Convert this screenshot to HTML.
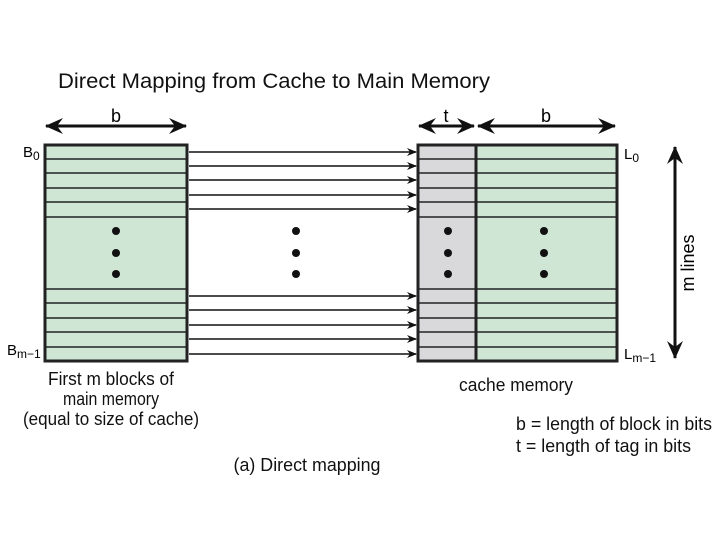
<!DOCTYPE html>
<html><head><style>body{margin:0;background:#fff}svg{display:block}</style></head><body>
<svg width="720" height="540" viewBox="0 0 720 540" xmlns="http://www.w3.org/2000/svg" font-family="Liberation Sans, sans-serif">
<defs>
<marker id="ah" markerWidth="10" markerHeight="8" refX="9" refY="4" orient="auto" markerUnits="userSpaceOnUse"><path d="M0,0 L10,4 L0,8 L3,4Z" fill="#111"/></marker>
<marker id="big" markerWidth="18" markerHeight="16" refX="17" refY="8" orient="auto-start-reverse" markerUnits="userSpaceOnUse"><path d="M0,0 L18,8 L0,16 L6,8Z" fill="#111"/></marker>
</defs>
<text x="58" y="88" font-size="21" textLength="432" lengthAdjust="spacingAndGlyphs" fill="#111">Direct Mapping from Cache to Main Memory</text>
<line x1="46" y1="126" x2="186" y2="126" stroke="#111" stroke-width="3" marker-start="url(#big)" marker-end="url(#big)"/>
<text x="116" y="122" font-size="18" text-anchor="middle">b</text>
<line x1="419" y1="126" x2="474" y2="126" stroke="#111" stroke-width="3" marker-start="url(#big)" marker-end="url(#big)"/>
<text x="446" y="122" font-size="18" text-anchor="middle">t</text>
<line x1="478" y1="126" x2="615" y2="126" stroke="#111" stroke-width="3" marker-start="url(#big)" marker-end="url(#big)"/>
<text x="546" y="122" font-size="18" text-anchor="middle">b</text>
<rect x="45" y="145" width="142" height="216" fill="#cfe6d4" stroke="#222" stroke-width="3"/>
<g stroke="#222" stroke-width="1.5">
<line x1="45" y1="159" x2="187" y2="159"/><line x1="45" y1="173" x2="187" y2="173"/><line x1="45" y1="188" x2="187" y2="188"/><line x1="45" y1="202" x2="187" y2="202"/><line x1="45" y1="217" x2="187" y2="217"/>
<line x1="45" y1="289" x2="187" y2="289"/><line x1="45" y1="303" x2="187" y2="303"/><line x1="45" y1="318" x2="187" y2="318"/><line x1="45" y1="332" x2="187" y2="332"/><line x1="45" y1="347" x2="187" y2="347"/>
</g>
<rect x="418" y="145" width="58" height="216" fill="#d9d9dc"/>
<rect x="476" y="145" width="141" height="216" fill="#cfe6d4"/>
<g stroke="#222" stroke-width="1.5">
<line x1="418" y1="159" x2="617" y2="159"/><line x1="418" y1="173" x2="617" y2="173"/><line x1="418" y1="188" x2="617" y2="188"/><line x1="418" y1="202" x2="617" y2="202"/><line x1="418" y1="217" x2="617" y2="217"/>
<line x1="418" y1="289" x2="617" y2="289"/><line x1="418" y1="303" x2="617" y2="303"/><line x1="418" y1="318" x2="617" y2="318"/><line x1="418" y1="332" x2="617" y2="332"/><line x1="418" y1="347" x2="617" y2="347"/>
</g>
<rect x="418" y="145" width="199" height="216" fill="none" stroke="#222" stroke-width="3"/>
<line x1="476" y1="145" x2="476" y2="361" stroke="#222" stroke-width="3"/>
<g stroke="#111" stroke-width="1.5" marker-end="url(#ah)">
<line x1="189" y1="152" x2="416" y2="152"/><line x1="189" y1="166" x2="416" y2="166"/><line x1="189" y1="180" x2="416" y2="180"/><line x1="189" y1="195" x2="416" y2="195"/><line x1="189" y1="209" x2="416" y2="209"/>
<line x1="189" y1="296" x2="416" y2="296"/><line x1="189" y1="310" x2="416" y2="310"/><line x1="189" y1="325" x2="416" y2="325"/><line x1="189" y1="339" x2="416" y2="339"/><line x1="189" y1="354" x2="416" y2="354"/>
</g>
<g fill="#111">
<circle cx="116" cy="231" r="4"/><circle cx="116" cy="253" r="4"/><circle cx="116" cy="274" r="4"/>
<circle cx="296" cy="231" r="4"/><circle cx="296" cy="253" r="4"/><circle cx="296" cy="274" r="4"/>
<circle cx="448" cy="231" r="4"/><circle cx="448" cy="253" r="4"/><circle cx="448" cy="274" r="4"/>
<circle cx="544" cy="231" r="4"/><circle cx="544" cy="253" r="4"/><circle cx="544" cy="274" r="4"/>
</g>
<text x="23" y="157" font-size="15">B<tspan font-size="12" dy="3">0</tspan></text>
<text x="7" y="355" font-size="15">B<tspan font-size="12" dy="3">m−1</tspan></text>
<text x="624" y="159" font-size="15">L<tspan font-size="12" dy="3">0</tspan></text>
<text x="624" y="359" font-size="15">L<tspan font-size="12" dy="3">m−1</tspan></text>
<line x1="675" y1="147" x2="675" y2="358" stroke="#111" stroke-width="3" marker-start="url(#big)" marker-end="url(#big)"/>
<text transform="translate(694,263) rotate(-90)" font-size="18" text-anchor="middle">m lines</text>
<g font-size="18" fill="#111" text-anchor="middle">
<text x="111" y="385" textLength="126" lengthAdjust="spacingAndGlyphs">First m blocks of</text>
<text x="111" y="405" textLength="96" lengthAdjust="spacingAndGlyphs">main memory</text>
<text x="111" y="425" textLength="176" lengthAdjust="spacingAndGlyphs">(equal to size of cache)</text>
<text x="516" y="391" textLength="114" lengthAdjust="spacingAndGlyphs">cache memory</text>
<text x="307" y="471" textLength="147" lengthAdjust="spacingAndGlyphs">(a) Direct mapping</text>
</g>
<g font-size="18" fill="#111">
<text x="516" y="430" textLength="196" lengthAdjust="spacingAndGlyphs">b = length of block in bits</text>
<text x="516" y="452" textLength="175" lengthAdjust="spacingAndGlyphs">t = length of tag in bits</text>
</g>
</svg>
</body></html>
